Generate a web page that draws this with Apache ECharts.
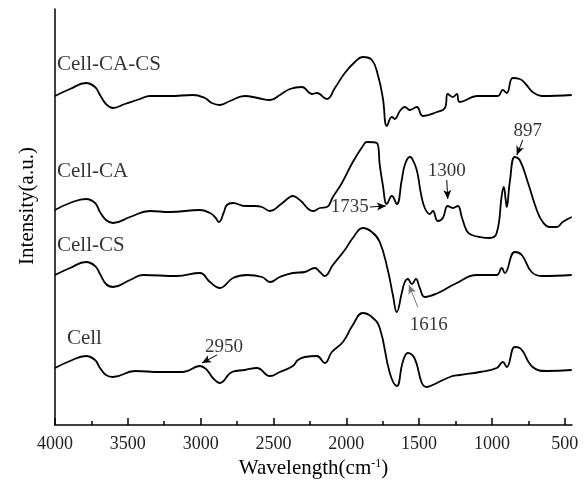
<!DOCTYPE html>
<html><head><meta charset="utf-8">
<script src="https://cdn.jsdelivr.net/npm/echarts@6/dist/echarts.min.js"></script>
<style>html,body{margin:0;padding:0;background:#fff}#c{width:585px;height:488px}</style>
</head><body><div id="c"></div>
<script>
const majorTicks = [500,1000,1500,2000,2500,3000,3500,4000];
const minorTicks = [750,1250,1750,2250,2750,3250,3750];
const seriesNames = ['Cell-CA-CS','Cell-CA','Cell-CS','Cell'];

const cellCaCs = [[4000,329],[3897,336],[3787,342],[3725,338],[3691,330],[3650,321],[3602,317],[3520,321],[3417,326],[3348,329],[3211,329],[3053,330],[2971,327],[2923,322],[2868,320],[2799,324],[2696,329],[2607,327],[2524,325],[2456,330],[2387,336],[2305,338],[2236,331],[2202,332],[2133,326],[2078,337],[2010,352],[1941,363],[1886,368],[1824,365],[1783,350],[1749,327],[1721,299],[1687,308],[1667,306],[1632,314],[1598,318],[1564,315],[1516,318],[1474,309],[1378,313],[1323,317],[1303,331],[1268,328],[1241,331],[1221,323],[1097,329],[960,329],[925,335],[898,332],[857,347],[809,346],[768,341],[720,333],[658,329],[452,330]];

const cellCa = [[4000,215],[3897,222],[3787,226],[3725,222],[3691,213],[3650,205],[3602,202],[3485,208],[3348,214],[3211,213],[3005,215],[2936,212],[2902,208],[2874,203],[2840,213],[2820,220],[2778,222],[2696,219],[2627,219],[2579,218],[2524,214],[2456,220],[2387,228],[2367,229],[2319,225],[2229,214],[2181,217],[2133,218],[2092,228],[2030,242],[1955,263],[1886,279],[1859,283],[1790,282],[1770,260],[1749,240],[1721,221],[1687,229],[1653,221],[1619,245],[1598,260],[1564,268],[1550,267],[1516,255],[1488,232],[1461,217],[1426,211],[1406,214],[1371,204],[1337,207],[1303,219],[1268,217],[1234,219],[1207,208],[1172,194],[1138,190],[1083,188],[1015,187],[967,192],[932,230],[919,238],[905,225],[898,218],[877,243],[843,268],[809,265],[754,243],[692,215],[651,203],[603,198],[555,198],[514,203],[452,208]];

const cellCs = [[4000,150],[3897,157],[3787,163],[3725,159],[3691,151],[3650,141],[3602,138],[3485,145],[3396,150],[3163,149],[3005,152],[2936,143],[2868,137],[2778,147],[2682,150],[2579,148],[2524,143],[2456,148],[2367,152],[2284,153],[2216,157],[2181,153],[2147,149],[2092,160],[2010,175],[1955,187],[1886,197],[1824,193],[1770,183],[1715,155],[1680,130],[1653,113],[1619,132],[1598,143],[1577,146],[1550,141],[1522,146],[1495,137],[1461,128],[1371,132],[1255,141],[1097,150],[967,150],[932,157],[912,152],[843,173],[795,170],[727,153],[658,149],[452,150]];

const cell = [[4000,57],[3897,64],[3787,69],[3725,65],[3691,57],[3650,50],[3602,48],[3451,54],[3279,53],[3122,53],[3005,59],[2957,55],[2916,47],[2868,42],[2785,53],[2696,55],[2614,57],[2524,49],[2456,53],[2367,59],[2332,65],[2284,68],[2202,69],[2147,62],[2099,73],[2023,83],[1955,100],[1886,112],[1824,108],[1770,97],[1701,52],[1653,39],[1612,63],[1577,72],[1529,66],[1481,42],[1447,38],[1406,40],[1289,48],[1221,50],[1083,53],[967,57],[925,63],[898,58],[843,78],[809,77],[720,58],[624,54],[452,55]];

const curveLabelPos = [[3986,360],[3986,253],[3986,179],[3918,86]];
const peakTexts = ['1735','1300','897','1616','2950'];
const peakTextPos = [[1975,218],[1310,254],[754,294],[1433,100],[2840,78]];
const peakArrows = [
  [[1838,218],[1728,219]],
  [[1310,245],[1303,226]],
  [[788,285],[829,270]],
  [[1509,118],[1570,140]],
  [[2888,70],[2991,62]]
];

const FONT = "'Liberation Serif','Times New Roman',serif";
const chart = echarts.init(document.getElementById('c'), null, {renderer:'canvas'});
const curves = [cellCaCs, cellCa, cellCs, cell];

const series = curves.map((d, i) => ({
  name: seriesNames[i], type: 'line', data: d, showSymbol: false, symbol: 'none',
  smooth: 0.45,
  lineStyle: {color: '#000', width: 1.8}, silent: true, animation: false
}));

series[3].markLine = {
  silent: true, animation: false, symbol: ['none','arrow'], symbolSize: [6,9],
  label: {show: false},
  data: peakArrows.map((a, i) => [
    {coord: a[0], lineStyle: {color: i === 3 ? '#777' : '#000', width: 1, type: 'solid'}},
    {coord: a[1]}
  ])
};

series.push({
  type: 'scatter', data: curveLabelPos.map((p, i) => ({value: p, name: seriesNames[i]})),
  symbolSize: 0.1, itemStyle: {color: 'rgba(0,0,0,0)'}, silent: true, animation: false,
  label: {show: true, formatter: p => p.name, position: [0,0], align: 'left', verticalAlign: 'middle',
    fontFamily: FONT, fontSize: 21, color: '#000'}
});
series.push({
  type: 'scatter', data: peakTextPos.map((p, i) => ({value: p, name: peakTexts[i]})),
  symbolSize: 0.1, itemStyle: {color: 'rgba(0,0,0,0)'}, silent: true, animation: false,
  label: {show: true, formatter: p => p.name, position: [0,0], align: 'center', verticalAlign: 'middle',
    fontFamily: FONT, fontSize: 19, color: '#000'}
});

const baseX = {
  type: 'value', inverse: true, min: 450, max: 4000, position: 'bottom',
  splitLine: {show: false}
};

chart.setOption({
  animation: false,
  backgroundColor: '#fff',
  grid: {left: 55, right: 13, top: 9, bottom: 63, containLabel: false},
  xAxis: [
    Object.assign({}, baseX, {
      name: 'Wavelength(cm{sup|-1})', nameLocation: 'middle', nameGap: 26,
      nameTextStyle: {fontFamily: FONT, fontSize: 21, color: '#000',
        rich: {sup: {fontFamily: FONT, fontSize: 12, color: '#000', verticalAlign: 'top'}}},
      axisLine: {show: true, onZero: false, lineStyle: {color: '#000', width: 1.5}},
      axisTick: {show: true, inside: true, length: 7, customValues: majorTicks, lineStyle: {color: '#000', width: 1.5}},
      axisLabel: {show: true, customValues: majorTicks, formatter: v => String(v), margin: 10,
        fontFamily: FONT, fontSize: 18, color: '#222'}
    }),
    Object.assign({}, baseX, {
      axisLine: {show: false},
      axisTick: {show: true, inside: true, length: 4, customValues: minorTicks, lineStyle: {color: '#000', width: 1.5}},
      axisLabel: {show: false}
    })
  ],
  yAxis: {
    type: 'value', min: 0, max: 416,
    name: 'Intensity(a.u.)', nameLocation: 'middle', nameGap: 17,
    nameTextStyle: {fontFamily: FONT, fontSize: 21, color: '#000', padding: [0, 0, 0, 22]},
    axisLine: {show: true, onZero: false, lineStyle: {color: '#000', width: 1.5}},
    axisTick: {show: false}, axisLabel: {show: false}, splitLine: {show: false}
  },
  series: series
});
</script></body></html>
